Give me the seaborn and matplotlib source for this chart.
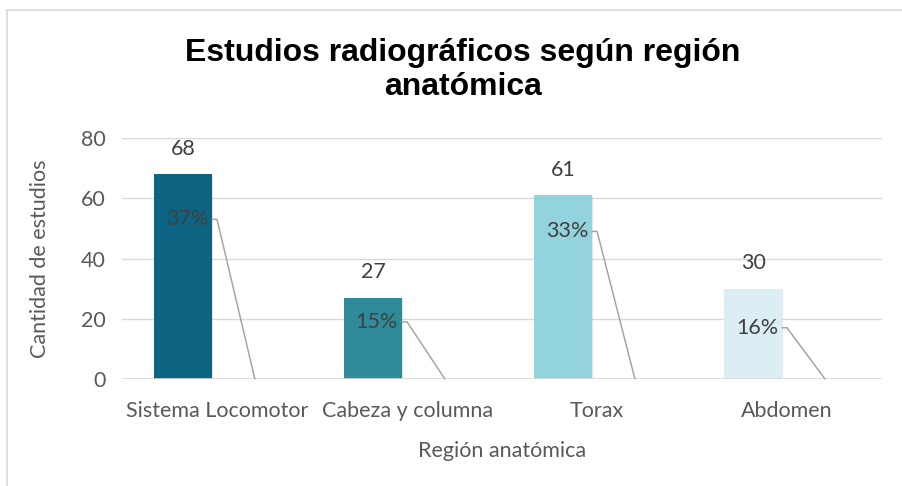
import numpy as np
import pandas as pd
import matplotlib.pyplot as plt
import seaborn as sns
from matplotlib import patheffects as pe
from matplotlib.lines import Line2D

regiones = ["Sistema Locomotor", "Cabeza y columna", "Torax", "Abdomen"]
cantidad = [68, 27, 61, 30]
porcentaje = [0.37, 0.15, 0.33, 0.16]
pct_labels = ["37%", "15%", "33%", "16%"]
colores = ["#0D6482", "#2F8B99", "#93D3DE", "#DBEEF3"]
# where the % labels sit (y in data units)
pct_label_y = [53, 19, 49, 17]

df = pd.DataFrame({
    "region": regiones * 2,
    "serie": ["Cantidad"] * 4 + ["Porcentaje"] * 4,
    "valor": cantidad + porcentaje,
})

sns.set_style("white")
plt.rcParams["font.family"] = ["Lato", "DejaVu Sans"]
FS = 15.5

fig = plt.figure(figsize=(9.02, 4.86), dpi=100)
ax = fig.add_axes([0.1353, 0.2202, 0.8427, 0.4958])

sns.barplot(data=df, x="region", y="valor", hue="serie", order=regiones,
            palette=["#0D6482", "#A5A5A5"], width=0.716, gap=0.15,
            dodge=True, legend=False, ax=ax)

cont_cnt = ax.containers[0]
cont_pct = ax.containers[1]
for bar, c in zip(cont_cnt, colores):
    bar.set_facecolor(c)
    bar.set_edgecolor("none")
    bar.set_path_effects([pe.SimplePatchShadow(offset=(1, -1), alpha=0.12),
                          pe.Normal()])

ax.bar_label(cont_cnt, labels=[str(v) for v in cantidad], padding=11,
             fontsize=FS, color="#404040")

for i, bar in enumerate(cont_pct):
    bar.set_visible(False)
    bx = bar.get_x() + bar.get_width() / 2
    lx = cont_cnt[i].get_x() + cont_cnt[i].get_width() / 2 + 0.02
    ax.annotate(pct_labels[i], xy=(bx + 0.02, 0), xytext=(lx, pct_label_y[i]),
                ha="center", va="center", fontsize=FS, color="#404040",
                arrowprops=dict(arrowstyle="-", color="#A5A5A5", lw=1.1,
                                patchA=None, relpos=(1, 0.5), shrinkA=3, shrinkB=0,
                                connectionstyle="arc,angleA=0,armA=9,angleB=90,armB=0,rad=0"))

ax.set_ylim(0, 80)
ax.set_xlim(-0.5, 3.5)
ax.set_yticks([0, 20, 40, 60, 80])
ax.yaxis.grid(True, color="#D9D9D9", lw=1)
ax.set_axisbelow(True)
sns.despine(ax=ax, left=True, bottom=True, top=True, right=True)
ax.axhline(0, color="#D9D9D9", lw=1.2, zorder=1)
ax.tick_params(axis="both", length=0, labelsize=FS, labelcolor="#595959")
ax.tick_params(axis="x", pad=16)
ax.tick_params(axis="y", pad=12)

ax.set_xlabel("Región anatómica", fontsize=FS, color="#595959", labelpad=14)
ax.set_ylabel("Cantidad de estudios", fontsize=FS, color="#595959", labelpad=22)

fig.text(0.513, 0.856, "Estudios radiográficos según región\nanatómica",
         ha="center", va="center", fontsize=23, fontweight="bold",
         family=["Liberation Sans", "DejaVu Sans"], color="black",
         linespacing=1.15)

# chart area frame (only top and left edges visible)
fig.add_artist(Line2D([0.008, 1.0], [0.979, 0.979], color="#D9D9D9", lw=1.2,
                      transform=fig.transFigure))
fig.add_artist(Line2D([0.008, 0.008], [0.0, 0.979], color="#D9D9D9", lw=1.2,
                      transform=fig.transFigure))

plt.savefig("out.png", dpi=100)
